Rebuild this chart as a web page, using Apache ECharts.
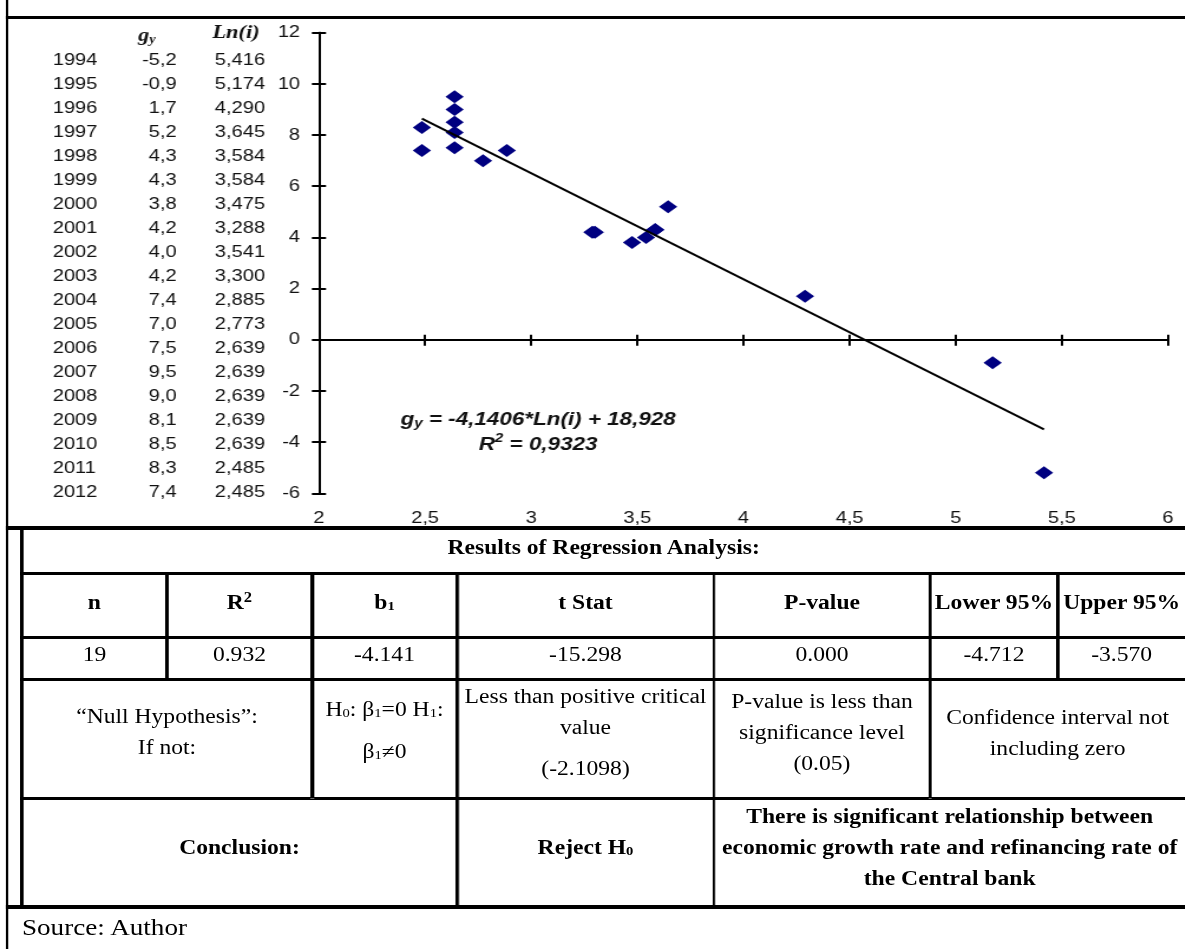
<!DOCTYPE html>
<html><head><meta charset="utf-8">
<script src="https://cdn.jsdelivr.net/npm/echarts@6/dist/echarts.min.js"></script>
<style>
html,body{margin:0;padding:0;background:#fff;overflow:hidden;width:1185px;height:949px;}
#page{position:absolute;left:0;top:0;width:1005px;height:949px;transform:scaleX(1.18);transform-origin:0 0;}
#chart{position:absolute;left:0;top:0;width:1005px;height:528px;}
.ln{position:absolute;background:#000;}
.cell{position:absolute;display:flex;flex-direction:column;align-items:center;justify-content:center;text-align:center;
 font-family:"Liberation Serif","Times New Roman",serif;font-size:20px;line-height:31px;color:#000;box-sizing:border-box;padding-bottom:10px;white-space:nowrap;}
.cell.b{font-weight:bold;}
.cell sub{font-size:0.62em;vertical-align:-0.05em;line-height:0;}
.cell sup{font-size:0.7em;vertical-align:0.5em;line-height:0;}
#src{position:absolute;left:18.6px;top:913px;font-family:"Liberation Serif","Times New Roman",serif;font-size:23px;line-height:30px;color:#000;}
</style></head>
<body>
<div id="page">
  <div id="chart"></div>
  <div id="table"></div>
  <div id="src">Source: Author</div>
</div>
<script>
// ---- data ----
const years = ['1994','1995','1996','1997','1998','1999','2000','2001','2002','2003','2004','2005','2006','2007','2008','2009','2010','2011','2012'];
const gy = [-5.2,-0.9,1.7,5.2,4.3,4.3,3.8,4.2,4.0,4.2,7.4,7.0,7.5,9.5,9.0,8.1,8.5,8.3,7.4];
const lnI = [5.416,5.174,4.290,3.645,3.584,3.584,3.475,3.288,3.541,3.300,2.885,2.773,2.639,2.639,2.639,2.639,2.639,2.485,2.485];
const trendCoef = [-4.1406, 18.928];   // slope, intercept
const trendR2 = '0,9323';
const xTicks = [2, 6, 0.5];   // min, max, interval
const yTicks = [-6, 12, 2];

const tableTitle = 'Results of Regression Analysis:';
const tableHeaders = ['n','R<sup>2</sup>','b<sub>1</sub>','t Stat','P-value','Lower 95%','Upper 95%'];
const tableValues = ['19','0.932','-4.141','-15.298','0.000','-4.712','-3.570'];
const hypothesisRow = [
  '“Null Hypothesis”:<br>If not:',
  'H<sub>0</sub>: β<sub>1</sub>=0 H<sub>1</sub>:<br>β<sub>1</sub>≠0',
  'Less than positive critical<br>value<br><span style="display:block;margin-top:10px">(-2.1098)</span>',
  'P-value is less than<br>significance level<br>(0.05)',
  'Confidence interval not<br>including zero'
];
const conclusionRow = ['Conclusion:','Reject H<sub>0</sub>','There is significant relationship between<br>economic growth rate and refinancing rate of<br>the Central bank'];

// ---- table layout (unstretched px) ----
const C = [18.6, 141.5, 264.4, 387.3, 605.1, 788.1, 896.6, 1004.5];
const R = [528, 573, 637, 679, 798, 907];
const tbl = document.getElementById('table');
function line(l, t, w, h){ const d=document.createElement('div'); d.className='ln'; d.style.cssText=`left:${l}px;top:${t}px;width:${w}px;height:${h}px`; tbl.appendChild(d); }
function cell(l, r, t, b, html, bold, extra){ const d=document.createElement('div'); d.className='cell'+(bold?' b':''); d.style.cssText=`left:${l}px;top:${t}px;width:${r-l}px;height:${b-t}px;`+(extra||''); d.innerHTML='<div>'+html+'</div>'; tbl.appendChild(d); }
// frame
line(4.7, 0, 2.5, 949);             // outer left
line(4.7, 15.5, 1005, 3);           // top line
line(4.7, 526.3, 1005, 3.5);        // under chart
line(4.7, 905.3, 1005, 3.5);        // bottom of table
line(17.3, 528, 2.5, 379);          // inner left
[R[1], R[2], R[3], R[4]].forEach(y => line(17.3, y-1.5, 990, 3));
// verticals
for (let i=1;i<=6;i++) line(C[i]-1.25, R[1], 2.5, R[3]-R[1]);
[2,3,4,5].forEach(i => line(C[i]-1.25, R[3], 2.5, R[4]-R[3]));
[3,4].forEach(i => line(C[i]-1.25, R[4], 2.5, R[5]-R[4]));
// cells
cell(C[0], C[7], R[0]+2, R[1]-1.5, tableTitle, true, 'padding-bottom:6px;');
for (let i=0;i<7;i++) cell(C[i], C[i+1], R[1]+1.5, R[2]-1.5, tableHeaders[i], true, 'padding-bottom:6px;');
for (let i=0;i<7;i++) cell(C[i], C[i+1], R[2]+1.5, R[3]-1.5, tableValues[i], false, 'padding-bottom:8px;');
cell(C[0], C[2], R[3]+1.5, R[4]-1.5, hypothesisRow[0], false, 'padding-bottom:14px;');
cell(C[2], C[3], R[3]+1.5, R[4]-1.5, hypothesisRow[1], false, 'padding-bottom:18px;line-height:42px;');
cell(C[3], C[4], R[3]+1.5, R[4]-1.5, hypothesisRow[2], false, 'padding-bottom:12px;');
cell(C[4], C[5], R[3]+1.5, R[4]-1.5, hypothesisRow[3], false, 'padding-bottom:12px;');
cell(C[5], C[7], R[3]+1.5, R[4]-1.5, hypothesisRow[4], false, 'padding-bottom:12px;');
cell(C[0], C[3], R[4]+1.5, R[5]-1.5, conclusionRow[0], true, 'padding-bottom:10px;');
cell(C[3], C[4], R[4]+1.5, R[5]-1.5, conclusionRow[1], true, 'padding-bottom:10px;');
cell(C[4], C[7], R[4]+1.5, R[5]-1.5, conclusionRow[2], true, 'padding-bottom:10px;');

// ---- chart ----
const chart = echarts.init(document.getElementById('chart'));
const sans = '"Liberation Sans", Arial, sans-serif';
const serif = '"Liberation Serif", "Times New Roman", serif';
const fmt = v => String(v).replace('.', ',');
const fmt1 = v => v.toFixed(1).replace('.', ',');
const fmt3 = v => v.toFixed(3).replace('.', ',');
const xMin = Math.min(...lnI), xMax = Math.max(...lnI);
const trend = [[xMin, trendCoef[0]*xMin + trendCoef[1]], [xMax, trendCoef[0]*xMax + trendCoef[1]]];

const listG = [];
function txt(x, y, text, align, font){
  return {type:'text', x:x, y:y, silent:true, style:{text:text, font:font, fill:'#111', align:align, verticalAlign:'middle', textAlign:align, textVerticalAlign:'middle'}};
}
years.forEach((yr, i) => {
  const y = 60 + 24*i;
  listG.push(txt(44.7, y, yr, 'left', '17px ' + sans));
  listG.push(txt(149.7, y, fmt1(gy[i]), 'right', '17px ' + sans));
  listG.push(txt(224.6, y, fmt3(lnI[i]), 'right', '17px ' + sans));
});
listG.push({type:'text', x:117, y:35, silent:true, style:{
  text:'{g|g}{s|y}', rich:{g:{font:'bold italic 19px ' + serif, fill:'#111', lineHeight:22, verticalAlign:'bottom'}, s:{font:'bold italic 12px ' + serif, fill:'#111', lineHeight:22, verticalAlign:'bottom'}},
  align:'left', verticalAlign:'middle', textAlign:'left', textVerticalAlign:'middle'}});
listG.push(txt(220, 33, 'Ln(i)', 'right', 'bold italic 19px ' + serif));
// trendline equation
const eqText = '{g|g}{s|y}{n| = ' + fmt(trendCoef[0]) + '*Ln(i) + ' + fmt(trendCoef[1]) + '}';
listG.push({type:'text', x:456, y:418, silent:true, style:{
  text:eqText, rich:{
    g:{font:'bold italic 19px ' + sans, fill:'#111', lineHeight:23, verticalAlign:'bottom'},
    s:{font:'bold italic 13px ' + sans, fill:'#111', lineHeight:23, verticalAlign:'bottom'},
    n:{font:'bold italic 19px ' + sans, fill:'#111', lineHeight:23, verticalAlign:'bottom'}},
  align:'center', verticalAlign:'middle', textAlign:'center', textVerticalAlign:'middle'}});
listG.push({type:'text', x:456, y:443, silent:true, style:{
  text:'{n|R}{p|2}{n| = ' + trendR2 + '}', rich:{
    n:{font:'bold italic 19px ' + sans, fill:'#111', lineHeight:23, verticalAlign:'bottom'},
    p:{font:'bold italic 13px ' + sans, fill:'#111', lineHeight:23, verticalAlign:'top'}},
  align:'center', verticalAlign:'middle', textAlign:'center', textVerticalAlign:'middle'}});

const axLine = {color:'#000', width:2};
const labelStyle = {fontSize:17, fontFamily:sans, color:'#111'};
chart.setOption({
  animation:false,
  backgroundColor:'transparent',
  grid:{left:270.3, right:1005-989.8, top:32.7, bottom:528-493.3, containLabel:false},
  xAxis:[
    {type:'value', min:xTicks[0], max:xTicks[1], interval:xTicks[2], position:'bottom',
     axisLine:{show:true, onZero:true, lineStyle:axLine},
     axisTick:{show:true, inside:false, length:6, lineStyle:axLine},
     axisLabel:Object.assign({show:true, margin:17, formatter:fmt, showMinLabel:true, showMaxLabel:true}, labelStyle),
     splitLine:{show:false}},
    {type:'value', min:xTicks[0], max:xTicks[1], interval:xTicks[2], position:'bottom',
     axisLine:{show:true, onZero:true, lineStyle:axLine},
     axisTick:{show:true, inside:true, length:5, lineStyle:axLine},
     axisLabel:{show:false}, splitLine:{show:false}}
  ],
  yAxis:[
    {type:'value', min:yTicks[0], max:yTicks[1], interval:yTicks[2], position:'left',
     axisLine:{show:true, onZero:false, lineStyle:axLine},
     axisTick:{show:true, inside:false, length:6, lineStyle:axLine},
     axisLabel:Object.assign({show:true, margin:16, formatter:fmt}, labelStyle),
     splitLine:{show:false}},
    {type:'value', min:yTicks[0], max:yTicks[1], interval:yTicks[2], position:'left', offset:0,
     axisLine:{show:true, onZero:false, lineStyle:axLine},
     axisTick:{show:true, inside:true, length:6, lineStyle:axLine},
     axisLabel:{show:false}, splitLine:{show:false}}
  ],
  series:[
    {type:'scatter', xAxisIndex:0, yAxisIndex:0, data:lnI.map((x,i)=>[x, gy[i]]),
     symbol:'diamond', symbolSize:[15.5,13], itemStyle:{color:'#000080', opacity:1}, z:2, silent:true},
    {type:'line', xAxisIndex:0, yAxisIndex:0, data:trend, symbol:'none', showSymbol:false,
     lineStyle:{color:'#000', width:2}, z:3, silent:true}
  ],
  graphic:listG
});
</script>
</body></html>
